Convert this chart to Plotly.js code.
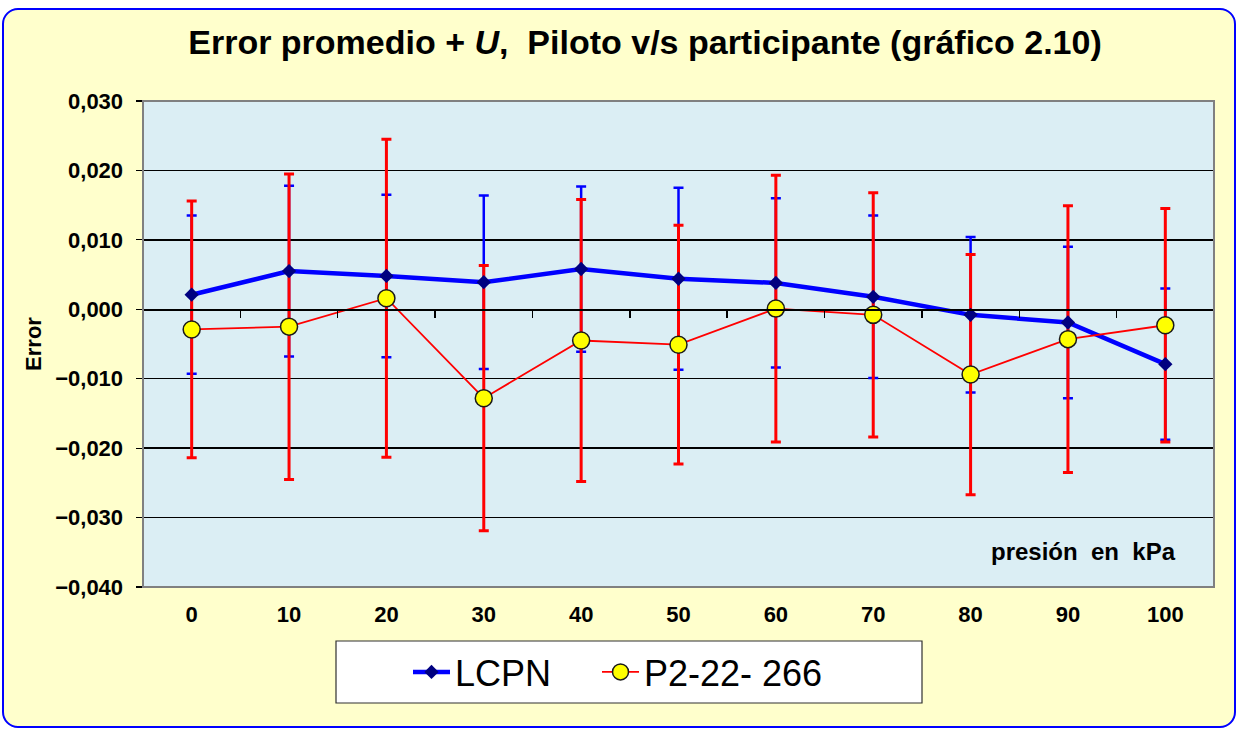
<!DOCTYPE html>
<html>
<head>
<meta charset="utf-8">
<script src="https://cdn.plot.ly/plotly-3.0.1.min.js"></script>
<style>
  html, body { margin: 0; padding: 0; background: #ffffff; }
  #frame { position: absolute; left: 2px; top: 8px; width: 1230px; height: 716px;
           border: 2px solid #0000ff; border-radius: 16px; background: #ffffcc; }
  #chart { position: absolute; left: 0; top: 0; width: 1238px; height: 730px; }
</style>
</head>
<body>
<div id="frame"></div>
<div id="chart"></div>
<script>
// ---- data ----
var pressures = [0, 10, 20, 30, 40, 50, 60, 70, 80, 90, 100];
var tickLabels = ['0', '10', '20', '30', '40', '50', '60', '70', '80', '90', '100'];
var lcpnError = [0.0021, 0.0055, 0.0048, 0.0039, 0.0058, 0.0044, 0.0038, 0.0018, -0.0008, -0.0019, -0.0079];
var lcpnU     = [0.0114, 0.0123, 0.0117, 0.0125, 0.0119, 0.0131, 0.0122, 0.0117, 0.0112, 0.0109, 0.0109];
var partError = [-0.0029, -0.0025, 0.0016, -0.0128, -0.0045, -0.0051, 0.0001, -0.0008, -0.0094, -0.0043, -0.0023];
var partU     = [0.0185, 0.0220, 0.0229, 0.0191, 0.0203, 0.0172, 0.0192, 0.0176, 0.0173, 0.0192, 0.0168];
var seriesNames = ['LCPN', 'P2-22- 266'];

var xIdx = pressures.map(function (p, i) { return i; });

var traces = [
  { // blue error bars
    x: xIdx, y: lcpnError, type: 'scatter', mode: 'none', showlegend: false, hoverinfo: 'skip',
    error_y: { type: 'data', array: lcpnU, visible: true, color: '#0000ff', thickness: 2.5, width: 5 }
  },
  { // red error bars
    x: xIdx, y: partError, type: 'scatter', mode: 'none', showlegend: false, hoverinfo: 'skip',
    error_y: { type: 'data', array: partU, visible: true, color: '#ff0000', thickness: 3, width: 5 }
  },
  {
    x: xIdx, y: lcpnError, type: 'scatter', mode: 'lines+markers', name: seriesNames[0], legend: 'legend',
    line: { color: '#0000ff', width: 4.5 },
    marker: { symbol: 'diamond', size: 11, color: '#000080', line: { width: 0 } }
  },
  {
    x: xIdx, y: partError, type: 'scatter', mode: 'lines+markers', name: seriesNames[1], legend: 'legend2',
    line: { color: '#ff0000', width: 1.8 },
    marker: { symbol: 'circle', size: 17, color: '#ffff00', line: { color: '#1a1a1a', width: 1.5 } }
  },
  { // helper for the category axis crossing at zero
    x: [-0.5, 10.5], y: [0, 0], xaxis: 'x2', type: 'scatter', mode: 'none', showlegend: false, hoverinfo: 'skip'
  }
];

var boundaries = [];
for (var i = 0; i <= pressures.length; i++) boundaries.push(i - 0.5);

var legendFont = { size: 36, family: 'Arial, Liberation Sans, sans-serif', color: '#000000' };

var layout = {
  width: 1238, height: 730,
  paper_bgcolor: 'rgba(0,0,0,0)',
  plot_bgcolor: '#dbeef4',
  separators: ',.',
  margin: { l: 143, r: 24, t: 101, b: 143, autoexpand: false },
  font: { family: 'Arial, Liberation Sans, sans-serif', color: '#000000' },
  title: {
    text: 'Error promedio + <i>U</i>,&nbsp;&nbsp;Piloto v/s participante (gráfico 2.10)',
    font: { size: 34, family: 'Arial, Liberation Sans, sans-serif', weight: 'bold', color: '#000000' },
    x: 0.521, xanchor: 'center', y: 0.942, yanchor: 'middle'
  },
  xaxis: {
    range: [-0.5, 10.5], tickmode: 'array', tickvals: xIdx, ticktext: tickLabels,
    showgrid: false, zeroline: false, ticks: '', showline: false,
    ticklabelstandoff: 12,
    tickfont: { size: 22, weight: 'bold' }, fixedrange: true
  },
  xaxis2: {
    overlaying: 'x', anchor: 'free', position: 4 / 7, side: 'bottom',
    range: [-0.5, 10.5], tickmode: 'array', tickvals: boundaries,
    showticklabels: false, ticks: 'outside', ticklen: 7, tickwidth: 1.5, tickcolor: '#000000',
    showline: true, linecolor: '#000000', linewidth: 1.5, showgrid: false, zeroline: false
  },
  yaxis: {
    range: [-0.04, 0.03], dtick: 0.01, tick0: 0, tickformat: '.3f',
    showgrid: true, gridcolor: '#000000', gridwidth: 1.3,
    zeroline: false, showline: true, linecolor: '#000000', linewidth: 1.5,
    ticks: 'outside', ticklen: 6, tickcolor: '#000000', tickwidth: 1.2,
    ticklabelstandoff: 8,
    tickfont: { size: 22, weight: 'bold' },
    title: { text: 'Error', font: { size: 22, weight: 'bold' }, standoff: 7 },
    fixedrange: true
  },
  showlegend: true,
  legend: {
    orientation: 'h', x: (408 - 143) / 1071, y: (587 - 672) / 486, xanchor: 'left', yanchor: 'middle',
    bgcolor: 'rgba(0,0,0,0)', borderwidth: 0, font: legendFont, itemwidth: 37
  },
  legend2: {
    orientation: 'h', x: (597 - 143) / 1071, y: (587 - 672) / 486, xanchor: 'left', yanchor: 'middle',
    bgcolor: 'rgba(0,0,0,0)', borderwidth: 0, font: legendFont, itemwidth: 37
  },
  shapes: [
    { type: 'rect', xref: 'paper', yref: 'paper', x0: 0, x1: 1, y0: 0, y1: 1,
      line: { color: '#808080', width: 2 }, fillcolor: 'rgba(0,0,0,0)', layer: 'above' },
    { type: 'rect', xref: 'paper', yref: 'paper',
      x0: (336 - 143) / 1071, x1: (922 - 143) / 1071,
      y0: (587 - 703) / 486, y1: (587 - 641) / 486,
      line: { color: '#303030', width: 1.2 }, fillcolor: '#ffffff', layer: 'below' }
  ],
  annotations: [
    { text: 'presión&nbsp;&nbsp;en&nbsp;&nbsp;kPa', xref: 'paper', yref: 'paper',
      x: (1083 - 143) / 1071, y: (587 - 551) / 486, xanchor: 'center', yanchor: 'middle',
      showarrow: false, font: { size: 24, weight: 'bold' } }
  ]
};

Plotly.newPlot('chart', traces, layout, { displayModeBar: false, staticPlot: true });
</script>
</body>
</html>
